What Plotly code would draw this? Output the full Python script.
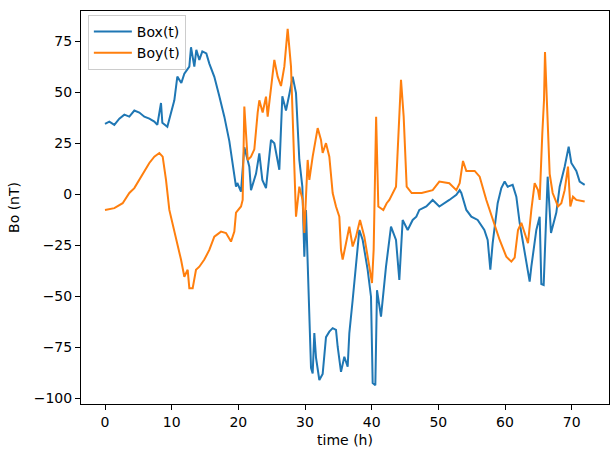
import plotly.graph_objects as go

# Box(t) readings
box_t = [0, 0.65, 1.4, 2.15, 2.9, 3.65, 4.4, 5.15, 5.9, 6.65, 7.4, 7.85, 8.4, 8.6, 9.35, 9.95,
         10.4, 10.85, 11.45, 11.9, 12.65, 12.9, 13.4, 13.7, 14.15, 14.6, 15.2, 15.65, 16.4, 17.15,
         17.9, 18.65, 19.1, 19.65, 19.85, 20.4, 20.9, 21.65, 21.9, 22.65, 23.15, 23.6, 24.15, 24.9,
         25.4, 26.15, 26.6, 27.15, 27.65, 28.15, 28.65, 28.9, 29.15, 29.6, 29.75, 29.9, 30.15, 30.65,
         30.9, 31.15, 31.4, 31.65, 32.15, 32.65, 33.15, 33.65, 34.15, 34.65, 34.9, 35.4, 35.9, 36.4,
         36.65, 37.15, 37.65, 38.15, 38.65, 39.4, 39.9, 40.15, 40.55, 40.8, 41.4, 42.15, 42.9, 43.65,
         44.15, 44.65, 45.4, 46.15, 46.7, 47.15, 48.2, 49.15, 50.15, 50.65, 51.65, 52.7, 53.2, 53.45,
         54.2, 54.95, 55.9, 56.9, 57.4, 57.8, 58.15, 58.9, 59.45, 59.95, 60.4, 61.15, 61.7, 62.2,
         62.95, 63.45, 63.7, 63.95, 64.7, 65.2, 65.45, 65.8, 66.4, 66.9, 67.7, 68.2, 68.95, 69.55,
         69.95, 70.7, 71.2, 71.95]
box_v = [34.5, 35.6, 34, 37, 39, 38, 41, 40, 38, 37, 35.6, 34, 44.7, 35, 33, 40,
         46, 57.6, 54.5, 59, 62.5, 72, 62.5, 70.7, 65.8, 70, 69, 64, 57.5, 48,
         38, 26, 15, 3.7, 5.5, 1.3, 23, 13.5, 2, 10, 20, 7, 3, 26.6,
         25, 12, 48, 41, 49, 57.6, 49.5, 33, 16.8, 3.7, -19, -30.6, -7.7, -65,
         -85, -87.8, -68, -80, -91, -88, -70, -67.3, -65.6, -66.5, -74.7, -87, -79.6, -84.5,
         -68, -51.8, -35.5, -17.5, -22.4, -37, -50.2, -92.5, -93.5, -47, -60, -35.5, -15.9, -22.4,
         -42, -12.6, -17.5, -12.6, -11, -7.7, -6, -2.8, -6, -5, -2.8, -0.3, 2, 0.6,
         -7.7, -11, -12.6, -17.5, -22.4, -37, -24, -4.4, 3, 6.2, 3.7, 4.6, -1.2, -14,
         -28.5, -38.5, -42.8, -35.5, -17.5, -11, -44, -44.5, 8.6, -19, -9, 3.7, 13.5, 23.3,
         15.3, 11.4, 6.2, 4.6]

# Boy(t) readings
boy_t = [0, 1.4, 2.65, 3.65, 4.4, 5.15, 5.9, 6.65, 7.4, 8.15, 8.65, 9.15, 9.65, 10.65, 11.4,
         11.9, 12.4, 12.65, 13.15, 13.65, 14.15, 14.9, 15.65, 16.4, 17.4, 18.15, 18.9, 19.4, 19.65,
         20.4, 20.65, 20.9, 21.15, 21.4, 21.9, 22.4, 22.9, 23.15, 23.65, 24.15, 24.4, 24.9, 25.4,
         25.9, 26.4, 26.9, 27.4, 27.9, 28.4, 28.65, 29.15, 29.65, 29.9, 30.4, 30.65, 31.15, 31.9,
         32.4, 32.65, 33.15, 33.65, 34.15, 34.65, 35.15, 35.4, 35.65, 36.15, 36.65, 37.15, 37.65,
         38.25, 38.9, 39.65, 40.05, 40.3, 40.67, 41.0, 41.75, 42.25, 42.65, 43.65, 44.4, 44.8,
         45.25, 46.0, 47.5, 49.15, 50.15, 51.65, 52.7, 53.2, 53.7, 54.2, 55.45, 56.2, 57.2, 58.2,
         59.2, 60.2, 60.95, 61.45, 61.95, 62.45, 62.95, 63.45, 63.95, 64.45, 64.95, 65.2, 65.6,
         65.85, 66.0, 66.2, 66.4, 66.7, 67.15, 67.95, 68.45, 68.95, 69.45, 69.8, 70.2, 70.7, 71.95]
boy_v = [-7.7, -6.8, -4.4, 0.6, 3, 7, 11.4, 15.3, 18.4, 20.2, 18.4, 7, -7.7, -20.8, -32,
         -40.4, -37, -46, -46, -37, -35.5, -32, -27.3, -20.8, -18.3, -19, -23.2, -18.3, -9,
         -6, -2.8, 43, 30, 16.8, 18.4, 22, 40, 46, 40, 47.8, 38, 52.7, 65.8,
         57.6, 53, 62.5, 81, 62.5, 18, -11, 3.7, -2.8, -19, 16.8, 7, 18.4, 32.4,
         26.6, 20.2, 25, 18.4, 0.6, -6, -11, -27.3, -32, -24, -15.9, -25.6, -20.8,
         -12.6, -20.8, -35.5, -43.5, -27, 38, -6, -7.7, -4.4, -2.8, 3.7, 56, 38,
         3.7, 0.6, 0.6, 2, 6.2, 5.4, 2, 5.4, 16.3, 11.4, 11.4, 8.6, -2.8, -12.6,
         -22.4, -30.6, -33, -31, -17.5, -14, -19, -24, -7.7, 5.4, 2, -2.8, 30,
         46, 69.7, 55, 40, 10, 0.6, -6, -4.4, 2, 13.5, -6, -1.2, -2.8, -3.6]

x_ticks = [0, 10, 20, 30, 40, 50, 60, 70]
y_ticks = [-100, -75, -50, -25, 0, 25, 50, 75]

fig = go.Figure()
fig.add_trace(go.Scatter(x=box_t, y=box_v, mode="lines", name="Box(t)",
                         line=dict(color="#1f77b4", width=2)))
fig.add_trace(go.Scatter(x=boy_t, y=boy_v, mode="lines", name="Boy(t)",
                         line=dict(color="#ff7f0e", width=2)))

axis_common = dict(showline=True, mirror=True, linecolor="black", linewidth=1,
                   ticks="outside", ticklen=5, tickwidth=1, tickcolor="black",
                   showgrid=False, zeroline=False,
                   tickfont=dict(family="DejaVu Sans", size=14, color="black"))

fig.update_xaxes(range=[-3.6, 75.6], tickvals=x_ticks,
                 title=dict(text="time (h)", standoff=6,
                            font=dict(family="DejaVu Sans", size=14, color="black")),
                 **axis_common)
fig.update_yaxes(range=[-102.75, 89.75], tickvals=y_ticks,
                 title=dict(text="Bo (nT)", standoff=10,
                            font=dict(family="DejaVu Sans", size=14, color="black")),
                 **axis_common)

fig.update_layout(
    width=610, height=450,
    margin=dict(l=81, r=1, t=11, b=46),
    paper_bgcolor="white", plot_bgcolor="white",
    font=dict(family="DejaVu Sans", size=14, color="black"),
    showlegend=True,
    legend=dict(x=0.013, y=0.99, xanchor="left", yanchor="top",
                bgcolor="rgba(255,255,255,0.8)", bordercolor="#cccccc", borderwidth=1,
                font=dict(family="DejaVu Sans", size=14, color="black"),
                tracegroupgap=0, itemwidth=38),
)

fig.write_html("out.html")
